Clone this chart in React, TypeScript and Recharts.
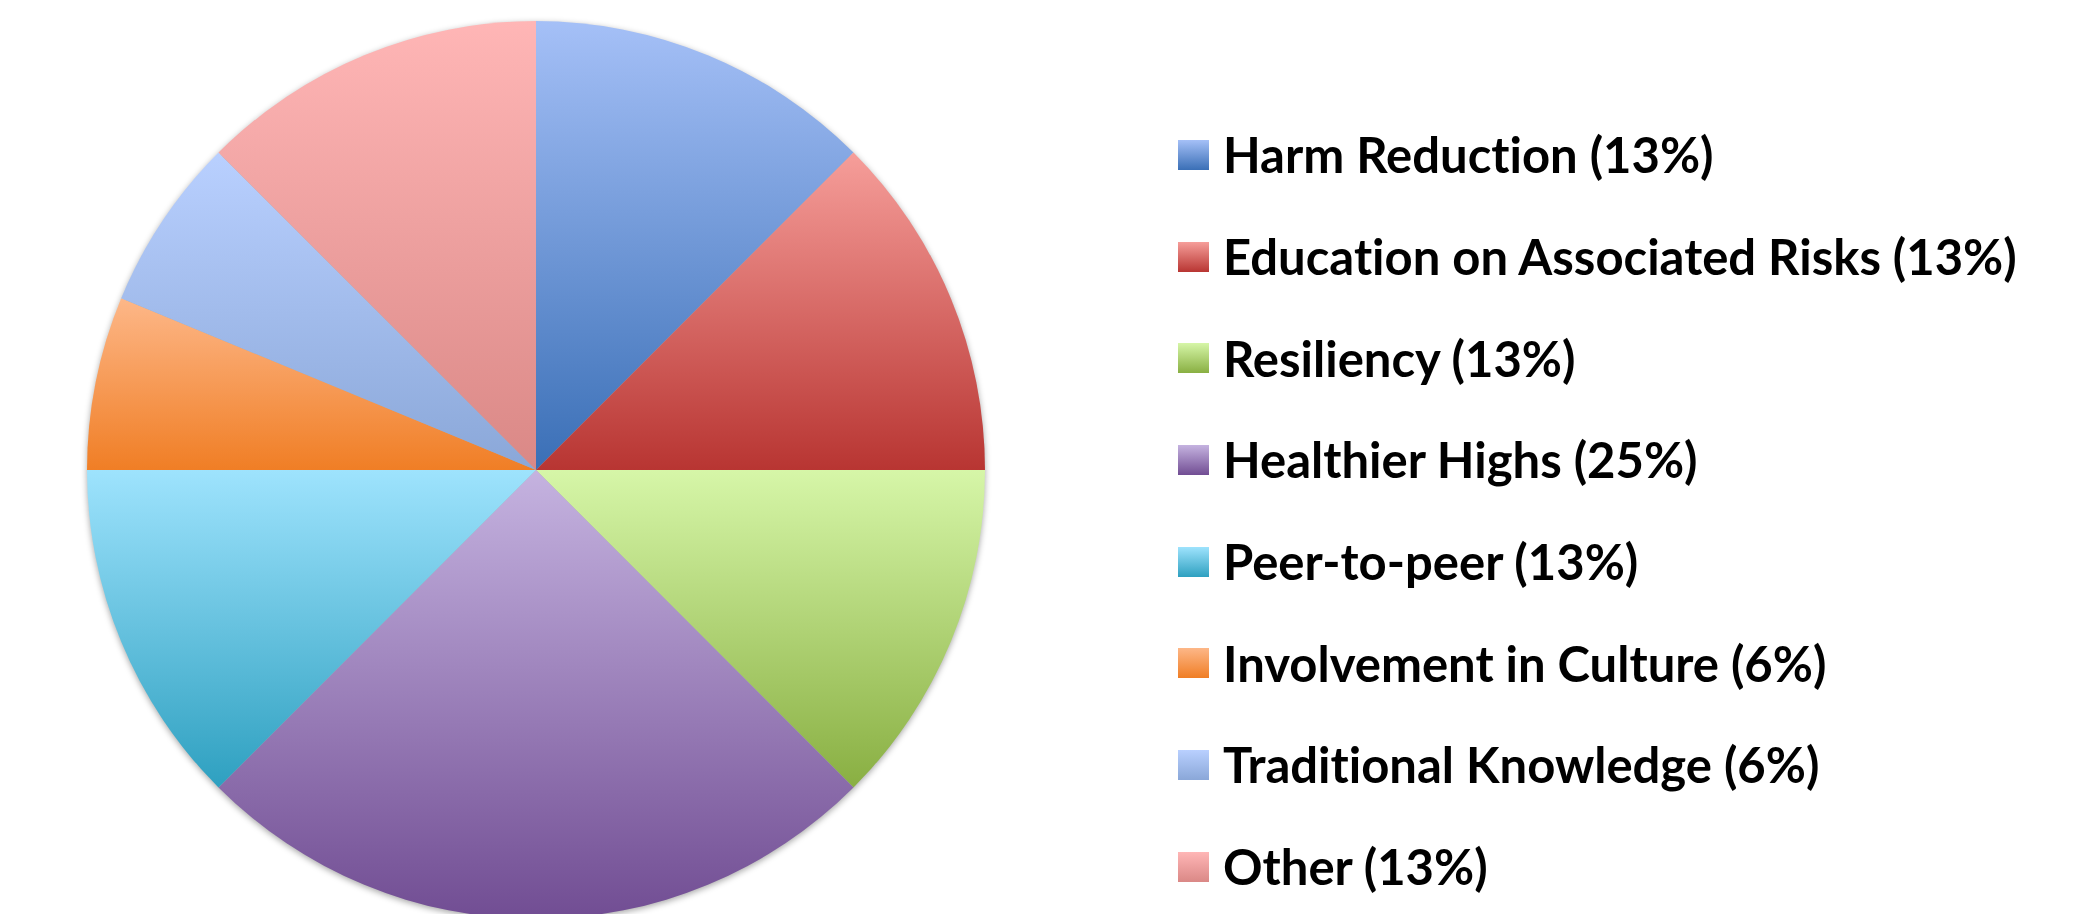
import { Cell, Legend, Pie, PieChart } from "recharts";

const categories = [
  "Harm Reduction",
  "Education on Associated Risks",
  "Resiliency",
  "Healthier Highs",
  "Peer-to-peer",
  "Involvement in Culture",
  "Traditional Knowledge",
  "Other",
];
const counts = [2, 2, 2, 4, 2, 1, 1, 2];
const percentLabels = ["13%", "13%", "13%", "25%", "13%", "6%", "6%", "13%"];

// light top / dark bottom of each slice's gradient
const topColors = ["#A5C0F7", "#F69E9A", "#D6F6A8", "#C5B3E0", "#9EE3FD", "#FDB788", "#B9D0FF", "#FFB6B6"];
const bottomColors = ["#3A6FB6", "#B83532", "#89AF42", "#714D93", "#2EA0C0", "#F07E25", "#8AA7D8", "#DA8886"];

const data = categories.map((name, i) => ({
  name: `${name} (${percentLabels[i]})`,
  value: counts[i],
}));

// keep the legend in data order (recharts sorts the payload by name)
function LegendList() {
  return (
    <div>
      {data.map((d, i) => (
        <div
          key={d.name}
          style={{ display: "flex", alignItems: "center", height: 101.7 }}
        >
          <span
            style={{
              width: 31,
              height: 30,
              marginRight: 14,
              flex: "none",
              background: `linear-gradient(${topColors[i]}, ${bottomColors[i]})`,
            }}
          />
          <span
            style={{
              fontFamily: "Lato, sans-serif",
              fontWeight: 700,
              fontSize: 49,
              color: "#000",
              whiteSpace: "nowrap",
              lineHeight: 1,
              fontVariantLigatures: "none",
            }}
          >
            {d.name}
          </span>
        </div>
      ))}
    </div>
  );
}

export default function App() {
  return (
    <div style={{ position: "absolute", left: 0, top: 0, width: 2098, height: 914, background: "#fff", overflow: "hidden" }}>
      <style>{`.recharts-pie { filter: drop-shadow(0px 2px 3px rgba(0,0,0,0.35)); }`}</style>
      <PieChart width={2098} height={914} margin={{ top: 0, right: 0, bottom: 0, left: 0 }}>
        <defs>
          {topColors.map((c, i) => (
            <linearGradient key={i} id={`slice-${i}`} x1="0" y1="0" x2="0" y2="1">
              <stop offset="0%" stopColor={c} />
              <stop offset="100%" stopColor={bottomColors[i]} />
            </linearGradient>
          ))}
        </defs>
        <Pie
          data={data}
          dataKey="value"
          nameKey="name"
          cx={536}
          cy={470}
          outerRadius={449}
          startAngle={90}
          endAngle={-270}
          stroke="none"
          isAnimationActive={false}
          legendType="square"
        >
          {data.map((d, i) => (
            <Cell key={d.name} fill={`url(#slice-${i})`} />
          ))}
        </Pie>
        <Legend
          layout="vertical"
          content={<LegendList />}
          wrapperStyle={{ position: "absolute", left: 1178, top: 104, width: 900 }}
        />
      </PieChart>
    </div>
  );
}
